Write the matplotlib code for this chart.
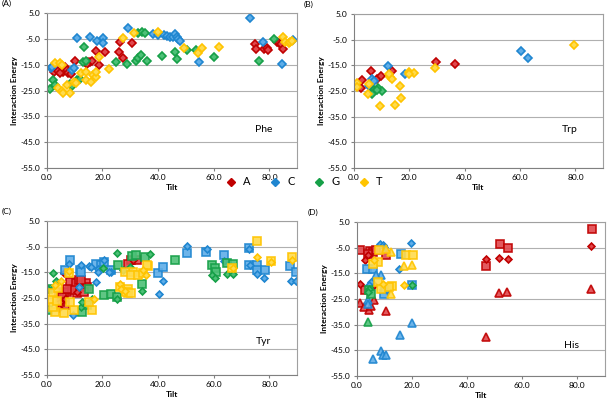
import matplotlib
matplotlib.use("Agg")
import matplotlib.pyplot as plt
from matplotlib.lines import Line2D

plt.rcParams['font.family'] = ['Lato', 'DejaVu Sans']

# ---- data: (tilt, interaction energy) pairs ----
# (A) Phe, diamonds
phe_A = [(2.7, -17.7), (4.1, -17.4), (5.7, -17.7), (6.5, -15.7), (7.1, -17.0), (7.7, -18.3),
         (8.6, -18.7), (4.7, -18.3), (10.0, -13.5), (14.0, -14.4), (14.8, -14.0), (15.4, -13.8),
         (16.1, -13.5), (14.4, -14.7), (17.5, -9.6), (21.0, -10.2), (18.9, -15.1), (26.4, -6.0),
         (25.8, -9.9), (27.4, -12.5), (30.7, -6.7), (74.7, -7.0), (75.2, -9.0), (78.0, -9.0),
         (79.0, -8.6), (79.6, -9.2), (82.7, -6.0), (83.3, -6.7), (84.2, -7.0), (84.9, -9.0)]
phe_C = [(72.9, 3.3), (10.9, -4.5), (15.6, -4.1), (18.0, -5.6), (20.3, -4.5), (20.3, -6.7),
         (29.1, -0.8), (38.1, -3.2), (40.0, -3.4), (42.0, -3.3), (43.1, -3.8), (44.3, -4.3),
         (45.2, -4.1), (45.9, -3.2), (46.7, -4.1), (47.3, -5.1), (47.9, -5.8), (54.7, -13.9),
         (77.7, -6.0), (84.5, -14.8), (88.4, -5.5), (1.4, -16.4), (1.9, -15.9), (9.0, -17.0),
         (9.6, -16.2)]
phe_G = [(1.2, -24.4), (2.4, -20.9), (3.0, -22.8), (8.5, -22.6), (9.2, -23.2), (10.9, -20.9),
         (11.8, -20.6), (13.0, -14.0), (14.0, -13.5), (13.4, -8.0), (24.8, -14.0), (28.9, -14.7),
         (31.9, -13.5), (32.9, -12.5), (33.7, -11.2), (36.1, -13.5), (32.9, -2.8), (34.1, -2.1),
         (35.2, -2.8), (41.4, -11.4), (46.1, -10.2), (46.9, -12.9), (50.2, -9.3), (53.7, -9.3),
         (59.9, -11.8), (76.2, -13.5), (81.6, -5.1)]
phe_T = [(3.0, -14.4), (4.7, -14.2), (5.6, -15.1), (4.1, -24.1), (5.3, -25.0), (5.9, -26.1),
         (8.3, -25.8), (7.1, -22.8), (9.7, -21.6), (10.6, -22.2), (14.2, -20.9), (16.0, -21.6),
         (16.5, -19.0), (17.7, -19.9), (17.7, -17.7), (18.7, -11.8), (22.5, -16.8), (12.4, -18.0),
         (14.2, -17.6), (27.2, -4.7), (31.3, -2.5), (40.0, -2.1), (49.4, -8.6), (54.4, -10.3),
         (55.6, -8.6), (61.8, -8.2), (84.8, -4.3), (85.7, -6.0), (86.9, -6.7), (87.5, -6.0),
         (88.1, -5.6)]

# (B) Trp, diamonds
trp_A = [(3.0, -20.8), (2.4, -23.8), (6.3, -17.3), (8.5, -20.4), (9.7, -19.2), (13.9, -17.3),
         (29.5, -13.6), (36.6, -14.5)]
trp_C = [(12.5, -15.2), (6.4, -20.5), (7.3, -21.2), (5.5, -23.1), (18.4, -18.4), (60.2, -9.3),
         (62.8, -12.3)]
trp_G = [(7.3, -24.5), (8.8, -24.0), (10.1, -25.0), (6.7, -26.0), (8.2, -24.5)]
trp_T = [(1.2, -21.8), (1.0, -23.6), (5.5, -22.1), (5.2, -26.3), (9.5, -30.9), (13.1, -19.5),
         (13.7, -20.5), (12.7, -18.2), (14.8, -30.5), (17.0, -27.9), (16.7, -23.1), (20.0, -17.5),
         (21.6, -17.9), (19.8, -18.4), (29.3, -16.0), (79.6, -7.1)]

# (C) Tyr, diamonds and squares
tyr_A_dia = [(6.1, -15.2), (4.3, -29.0), (6.7, -25.2), (11.0, -22.6), (4.9, -26.5), (31.0, -10.3)]
tyr_A_sq = [(4.3, -22.6), (6.1, -23.2), (7.3, -22.6), (5.5, -24.5), (8.5, -18.7), (10.4, -19.3),
            (11.6, -18.0), (14.0, -19.3), (14.6, -20.6), (11.0, -23.2), (13.4, -22.6), (9.1, -21.9),
            (6.7, -27.8), (4.9, -26.5), (30.4, -10.3), (32.3, -10.3), (29.2, -11.6), (7.3, -21.3),
            (12.2, -18.0)]
tyr_C_dia = [(7.9, -11.6), (12.2, -12.0), (15.2, -12.6), (17.7, -18.7), (18.3, -13.8), (20.7, -10.3),
             (23.1, -14.8), (40.2, -23.5), (41.8, -18.4), (50.3, -4.8), (57.5, -5.8), (63.7, -10.7),
             (72.5, -6.1), (75.5, -15.5), (78.2, -17.4), (87.7, -18.3), (89.6, -18.3), (73.1, -12.0),
             (9.5, -31.7), (15.8, -12.9), (18.3, -14.8), (22.5, -14.8), (11.6, -20.6)]
tyr_C_sq = [(8.5, -10.3), (11.9, -13.9), (17.7, -11.6), (19.5, -12.2), (20.7, -10.9), (22.9, -14.2),
            (39.9, -15.1), (41.8, -12.9), (50.2, -7.3), (57.2, -7.0), (63.7, -8.1), (72.5, -5.5),
            (72.8, -12.0), (75.5, -12.2), (75.5, -13.9), (78.3, -14.2), (87.4, -12.5), (89.6, -14.8),
            (6.7, -14.1), (12.2, -14.8)]
tyr_G_dia = [(2.4, -15.2), (0.6, -21.3), (3.3, -18.3), (25.3, -7.4), (25.3, -25.2), (34.1, -22.2),
             (36.9, -7.7), (59.4, -16.1), (60.3, -17.4), (64.9, -15.5), (67.0, -15.7), (20.1, -13.5),
             (27.4, -14.2), (12.2, -28.4), (29.8, -12.9), (16.4, -25.2), (12.8, -26.5)]
tyr_G_sq = [(0.6, -29.5), (20.5, -23.9), (22.9, -23.6), (25.3, -24.5), (25.6, -12.2), (30.7, -8.7),
            (32.0, -8.1), (34.1, -19.4), (46.0, -10.0), (59.4, -12.2), (60.3, -13.5), (60.7, -14.8),
            (64.9, -11.2), (67.0, -11.6), (12.8, -30.4), (15.2, -21.3), (35.3, -9.0), (14.6, -27.8),
            (0.6, -21.3)]
tyr_T_dia = [(26.2, -19.4), (26.8, -21.3), (28.0, -22.2), (17.0, -25.2), (75.5, -9.0), (80.4, -10.9),
             (88.0, -10.3), (67.0, -13.5), (34.7, -14.2), (35.5, -16.1), (3.0, -20.0), (5.0, -18.5),
             (8.0, -14.5)]
tyr_T_sq = [(75.5, -2.8), (80.4, -10.7), (88.0, -9.0), (66.5, -13.5), (16.4, -29.7), (29.2, -23.2),
            (36.5, -12.5), (31.1, -14.8), (9.7, -29.7), (6.1, -31.0), (3.0, -30.4), (2.4, -23.2),
            (1.8, -25.8), (2.4, -28.4), (7.9, -15.4), (15.2, -26.5), (28.0, -14.8), (30.4, -16.1),
            (32.9, -16.1), (29.2, -21.3), (28.6, -22.6), (30.4, -23.2), (26.2, -20.6), (35.9, -12.3),
            (34.7, -15.4), (4.0, -21.0), (3.5, -26.0), (8.5, -26.5)]

# (D) His, diamonds, squares and triangles
his_A_dia = [(1.0, -19.0), (3.1, -9.9), (3.9, -8.0), (6.3, -19.4), (10.5, -21.4), (46.7, -9.3),
             (51.7, -8.9), (54.7, -9.3), (85.1, -4.5)]
his_A_sq = [(1.3, -6.0), (4.8, -6.3), (5.7, -6.7), (6.9, -5.8), (10.5, -8.0), (46.9, -12.1),
            (51.9, -3.4), (54.7, -5.1), (85.3, 2.4), (3.1, -21.6), (3.9, -7.6)]
his_A_tri = [(1.0, -26.6), (2.7, -28.1), (4.3, -29.4), (5.1, -27.8), (6.3, -25.3), (10.5, -29.8),
             (46.9, -39.8), (51.7, -22.5), (54.4, -22.3), (85.1, -21.0)]
his_C_dia = [(19.8, -3.1), (8.5, -3.4), (9.3, -4.1), (9.9, -4.7), (15.3, -13.2), (5.1, -18.4),
             (4.5, -19.7)]
his_C_sq = [(15.9, -7.3), (3.7, -13.2), (5.7, -13.2), (20.0, -19.4), (9.9, -22.9), (10.1, -21.0)]
his_C_tri = [(8.9, -15.8), (6.9, -15.8), (6.0, -48.2), (8.7, -45.3), (9.5, -46.9), (10.5, -46.9),
             (15.5, -39.2), (20.0, -34.4), (3.9, -25.3), (3.9, -26.8)]
his_G_dia = [(4.5, -21.0), (3.9, -22.3), (20.0, -19.4)]
his_G_sq = [(4.5, -21.6), (5.1, -22.9)]
his_G_tri = [(4.2, -34.0)]
his_T_dia = [(17.1, -19.4), (6.3, -9.9), (9.3, -19.0)]
his_T_sq = [(8.1, -6.0), (7.5, -10.6), (5.7, -11.2), (17.7, -8.0), (20.3, -8.0), (12.9, -20.1),
            (11.7, -20.3), (7.5, -18.4), (8.7, -21.0)]
his_T_tri = [(12.5, -6.7), (17.1, -12.3), (20.0, -11.9), (10.5, -5.4), (12.3, -22.9)]

bases = ['A', 'C', 'G', 'T']
edge = {'A': '#C00000', 'C': '#1F86D0', 'G': '#16A048', 'T': '#FFC400'}
face = {'A': '#E0474C', 'C': '#5EADE8', 'G': '#4DC077', 'T': '#FFDB4D'}

fig = plt.figure(figsize=(6.08, 4.0), dpi=100)
ax_a = fig.add_axes([0.077, 0.58, 0.412, 0.387])
ax_b = fig.add_axes([0.582, 0.58, 0.410, 0.385])
ax_c = fig.add_axes([0.077, 0.0625, 0.412, 0.385])
ax_d = fig.add_axes([0.587, 0.06, 0.408, 0.385])


def draw(ax, pts, base, marker, ms, alpha=1.0):
    ax.plot([p[0] for p in pts], [p[1] for p in pts], ls='none', marker=marker, ms=ms,
            mfc=face[base], mec=edge[base], mew=1.2, alpha=alpha)


for b, pts in zip(bases, [phe_A, phe_C, phe_G, phe_T]):
    draw(ax_a, pts, b, 'D', 4.5)
for b, pts in zip(bases, [trp_A, trp_C, trp_G, trp_T]):
    draw(ax_b, pts, b, 'D', 4.5)
for b, sq, dia in zip(bases, [tyr_A_sq, tyr_C_sq, tyr_G_sq, tyr_T_sq],
                      [tyr_A_dia, tyr_C_dia, tyr_G_dia, tyr_T_dia]):
    draw(ax_c, sq, b, 's', 5.3, 0.9)
    draw(ax_c, dia, b, 'D', 3.5)
for b, sq, dia, tri in zip(bases, [his_A_sq, his_C_sq, his_G_sq, his_T_sq],
                           [his_A_dia, his_C_dia, his_G_dia, his_T_dia],
                           [his_A_tri, his_C_tri, his_G_tri, his_T_tri]):
    draw(ax_d, sq, b, 's', 5.3, 0.9)
    draw(ax_d, dia, b, 'D', 3.5)
    draw(ax_d, tri, b, '^', 5.8, 0.9)

panels = [(ax_a, '(A)', 'Phe', -40), (ax_b, '(B)', 'Trp', -40),
          (ax_c, '(C)', 'Tyr', -42), (ax_d, '(D)', 'His', -43)]
for ax, tag, name, ny in panels:
    ax.set_xlim(0, 90)
    ax.set_ylim(-55, 5)
    ax.set_xticks([0, 20, 40, 60, 80])
    ax.set_yticks(range(-55, 6, 10))
    ax.xaxis.set_major_formatter(matplotlib.ticker.FormatStrFormatter('%.1f'))
    ax.yaxis.set_major_formatter(matplotlib.ticker.FormatStrFormatter('%.1f'))
    ax.tick_params(labelsize=6, length=2.5, color='#808080', pad=2)
    ax.grid(axis='y', color='#B0B0B0', lw=0.8)
    ax.set_axisbelow(True)
    for s in ax.spines.values():
        s.set_color('#A0A0A0')
    ax.spines['left'].set_color('#808080')
    ax.spines['bottom'].set_color('#808080')
    ax.set_xlabel('Tilt', fontsize=6, fontweight='bold', labelpad=2)
    ax.set_ylabel('Interaction Energy', fontsize=6, fontweight='bold', labelpad=2)
    ax.text(78, ny, name, fontsize=7.5, ha='center', va='center')
    ax.text(-0.18 if ax in (ax_a, ax_c) else -0.2, 1.04, tag, transform=ax.transAxes,
            fontsize=6, va='bottom')

handles = [Line2D([], [], ls='none', marker='D', ms=4.5, color=edge[b]) for b in bases]
fig.legend(handles, bases, loc='center', bbox_to_anchor=(0.495, 0.545), ncol=4,
           frameon=False, fontsize=8, handletextpad=0.1, columnspacing=1.2)

fig.savefig('out.png', dpi=100)
